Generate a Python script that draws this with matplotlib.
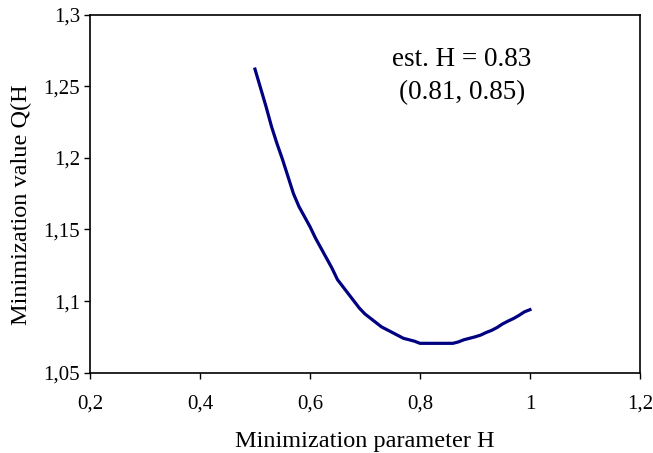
import numpy as np
import matplotlib
matplotlib.use("Agg")
import matplotlib.pyplot as plt

# Minimization curve Q(H)
H = [0.50, 0.51, 0.52, 0.53, 0.54, 0.55, 0.56, 0.57, 0.58, 0.59,
     0.60, 0.61, 0.62, 0.63, 0.64, 0.65, 0.66, 0.67, 0.68, 0.69,
     0.70, 0.71, 0.72, 0.73, 0.74, 0.75, 0.76, 0.77, 0.78, 0.79,
     0.80, 0.81, 0.82, 0.83, 0.84, 0.85, 0.86, 0.87, 0.88, 0.89,
     0.90, 0.91, 0.92, 0.93, 0.94, 0.95, 0.96, 0.97, 0.98, 0.99, 1.00]
Q = [1.262, 1.249, 1.236, 1.222, 1.210, 1.199, 1.187, 1.175, 1.166, 1.159,
     1.152, 1.144, 1.137, 1.130, 1.123, 1.115, 1.110, 1.105, 1.100, 1.095,
     1.091, 1.088, 1.085, 1.082, 1.080, 1.078, 1.076, 1.074, 1.073, 1.072,
     1.0705, 1.0705, 1.0705, 1.0705, 1.0705, 1.0705, 1.0705, 1.0715, 1.0730, 1.0740,
     1.0750, 1.0762, 1.0780, 1.0795, 1.0815, 1.0840, 1.0860, 1.0878, 1.0900, 1.0925, 1.0940]

xticks = [0.2, 0.4, 0.6, 0.8, 1.0, 1.2]
xlabels = ['0,2', '0,4', '0,6', '0,8', '1', '1,2']
yticks = [1.05, 1.1, 1.15, 1.2, 1.25, 1.3]
ylabels = ['1,05', '1,1', '1,15', '1,2', '1,25', '1,3']

plt.rcParams['font.family'] = ['Liberation Serif', 'DejaVu Serif']

fig = plt.figure(figsize=(6.53, 4.53), dpi=100)
ax = fig.add_axes([0.1378, 0.1773, 0.8422, 0.7903])

ax.plot(H, Q, color='#000080', lw=2.3)

ax.set_xlim(0.2, 1.2)
ax.set_ylim(1.05, 1.3)
ax.set_xticks(xticks)
ax.set_xticklabels(xlabels)
ax.set_yticks(yticks)
ax.set_yticklabels(ylabels)
ax.tick_params(axis='both', direction='out', length=4, width=1, labelsize=15)
ax.tick_params(axis='x', pad=12)
ax.tick_params(axis='y', pad=3)
for s in ax.spines.values():
    s.set_linewidth(1.2)

ax.set_xlabel('Minimization parameter H', fontsize=17.5, labelpad=12)
ax.set_ylabel('Minimization value Q(H', fontsize=17.5)
ax.yaxis.set_label_coords(-0.105, 0.47)

ax.text(0.876, 1.257, 'est. H = 0.83\n(0.81, 0.85)', ha='center', va='center',
        fontsize=19.5, linespacing=1.45)

plt.savefig("out.png")
